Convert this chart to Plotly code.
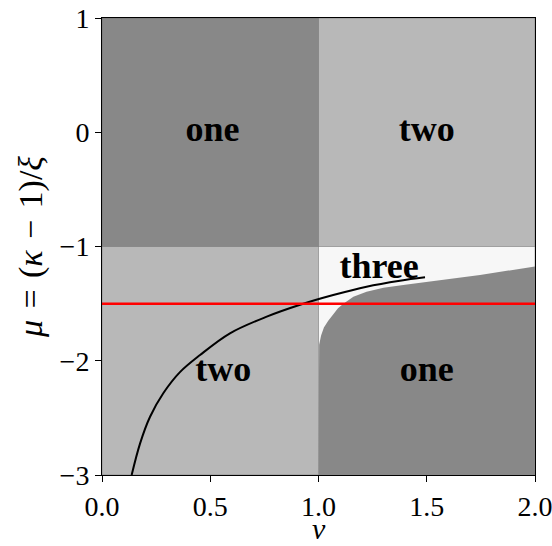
import plotly.graph_objects as go

# Region fill colours
DARK = "#888888"
LIGHT = "#b8b8b8"
PALE = "#f7f7f7"

# Rectangular regions: (nu_min, nu_max, mu_min, mu_max)
rect_nu = [[0.0, 1.0], [1.0, 2.0], [0.0, 1.0], [1.0, 2.0]]
rect_mu = [[-1.0, 1.0], [-1.0, 1.0], [-3.0, -1.0], [-3.0, -1.0]]
rect_color = [DARK, LIGHT, LIGHT, PALE]

# Lower boundary of the "one" region for nu > 1
bound_nu = [1.000, 1.000, 1.003, 1.012, 1.025, 1.045, 1.068, 1.090, 1.115, 1.161,
            1.222, 1.300, 1.400, 1.530, 1.746, 2.000]
bound_mu = [-3.000, -1.950, -1.860, -1.780, -1.710, -1.650, -1.590, -1.540, -1.500, -1.440,
            -1.395, -1.360, -1.335, -1.305, -1.249, -1.175]

# Black curve
curve_nu = [0.137, 0.176, 0.222, 0.283, 0.360, 0.453, 0.591, 0.761, 0.915, 1.068, 1.222, 1.376, 1.492]
curve_mu = [-3.000, -2.723, -2.490, -2.285, -2.100, -1.950, -1.760, -1.614, -1.510, -1.425, -1.352, -1.300, -1.270]

# Horizontal reference level
level_mu = -1.5
nu_range = [0.0, 2.0]

# Region labels
label_text = ["one", "two", "two", "one", "three"]
label_nu = [0.51, 1.50, 0.56, 1.50, 1.28]
label_mu = [0.0, 0.0, -2.10, -2.10, -1.20]

fig = go.Figure()

for xs, ys, c in zip(rect_nu, rect_mu, rect_color):
    fig.add_trace(go.Scatter(
        x=[xs[0], xs[1], xs[1], xs[0], xs[0]],
        y=[ys[0], ys[0], ys[1], ys[1], ys[0]],
        fill="toself", fillcolor=c, mode="lines",
        line=dict(color="rgba(90,90,90,0.5)", width=0.8),
        hoverinfo="skip", showlegend=False,
    ))

fig.add_trace(go.Scatter(
    x=bound_nu + [2.0, 1.0],
    y=bound_mu + [-3.0, -3.0],
    fill="toself", fillcolor=DARK, mode="lines",
    line=dict(color=DARK, width=0),
    hoverinfo="skip", showlegend=False,
))

fig.add_trace(go.Scatter(
    x=curve_nu, y=curve_mu, mode="lines",
    line=dict(color="black", width=2, shape="spline"),
    showlegend=False,
))

fig.add_trace(go.Scatter(
    x=nu_range, y=[level_mu, level_mu], mode="lines",
    line=dict(color="red", width=2.5),
    showlegend=False,
))

fig.add_trace(go.Scatter(
    x=label_nu, y=label_mu, mode="text", text=label_text,
    textfont=dict(family="Liberation Serif", size=36, color="black", weight="bold"),
    showlegend=False,
))

axis_font = dict(family="Liberation Serif", size=28, color="black")

# x-axis label placed below the tick labels
fig.add_annotation(
    text="<i>ν</i>", xref="paper", yref="paper", x=0.5, y=0,
    xanchor="center", yanchor="middle", yshift=-53, showarrow=False,
    font=dict(family="Liberation Serif", size=30, color="black"),
)

fig.update_layout(
    width=552, height=546,
    margin=dict(l=102, r=17, t=18, b=71),
    plot_bgcolor="white", paper_bgcolor="white",
    xaxis=dict(
        range=nu_range, tickvals=[0.0, 0.5, 1.0, 1.5, 2.0],
        ticktext=["0.0", "0.5", "1.0", "1.5", "2.0"],
        ticks="outside", ticklen=6, tickcolor="black", ticklabeloverflow="allow",
        showline=True, linecolor="black", linewidth=1, mirror=True,
        showgrid=False, zeroline=False, tickfont=axis_font, automargin=False,
    ),
    yaxis=dict(
        range=[-3, 1], tickvals=[-3, -2, -1, 0, 1],
        ticktext=["−3", "−2", "−1", "0", "1"],
        ticks="outside", ticklen=6, tickcolor="black", ticklabeloverflow="allow",
        showline=True, linecolor="black", linewidth=1, mirror=True,
        showgrid=False, zeroline=False, tickfont=axis_font, automargin=False,
        title=dict(text="<i>μ</i>\u2004=\u2004(<i>κ</i>\u2004−\u20041)/<i>ξ</i>",
                   font=dict(family="Liberation Serif", size=34, color="black"), standoff=6),
    ),
)

fig.write_html("out.html")
